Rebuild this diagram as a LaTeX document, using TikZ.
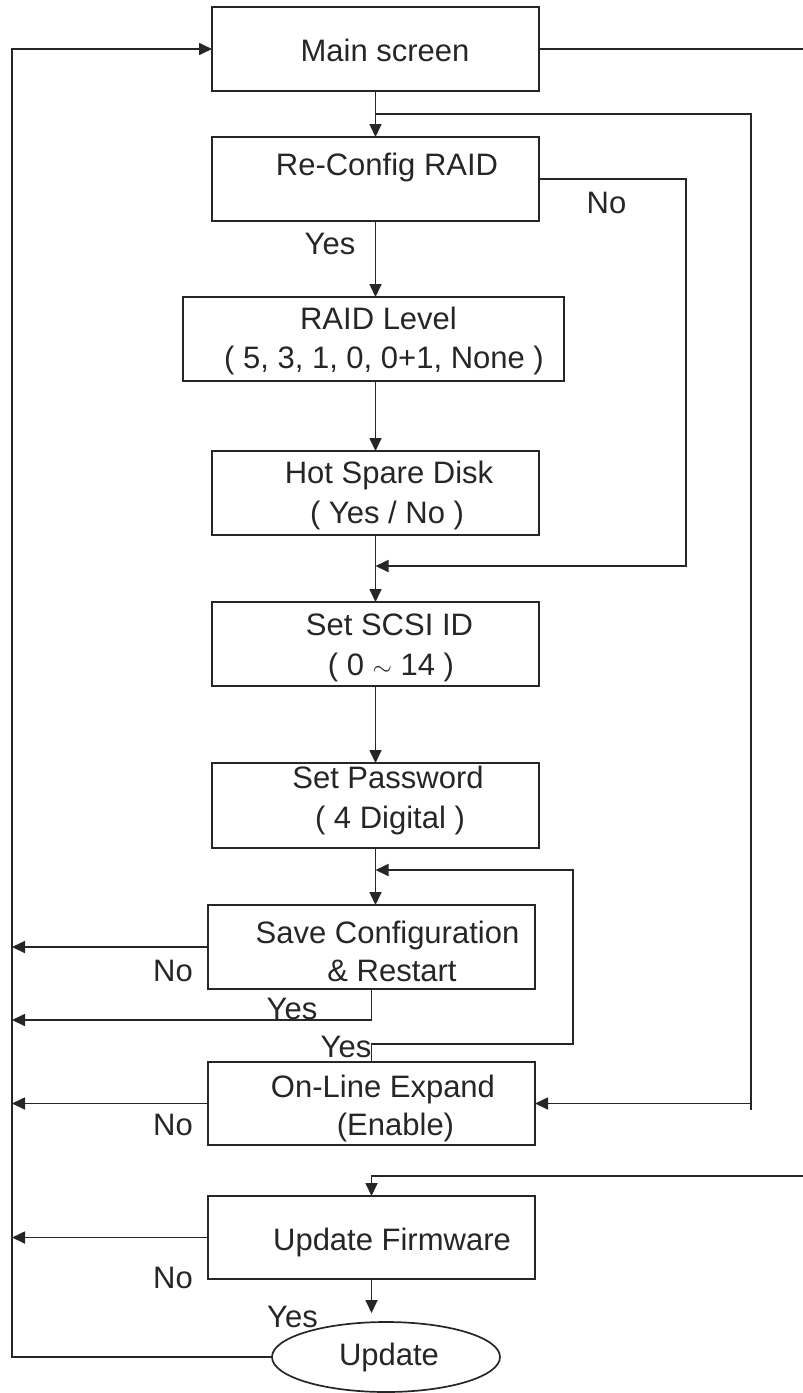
\documentclass[tikz,border=0pt]{standalone}
\usepackage{fontspec}
\setmainfont{Liberation Sans}
\usetikzlibrary{arrows.meta,shapes.geometric}

\begin{document}
\begin{tikzpicture}[x=1pt,y=-1pt,line width=1.7pt,color=black!85,>={Triangle[length=13pt,width=12pt]},
	box/.style={draw,inner sep=0pt,outer sep=0pt,minimum width=327pt,minimum height=84pt},
	lbl/.style={anchor=base,inner sep=0pt,font=\fontsize{31}{37}\selectfont}]
	%\draw[step=50,gray!20,line width=0.4pt] (0,0) grid (803,1393); %raster
	\useasboundingbox (0,0) rectangle (803,1393);
	\coordinate (lft) at (12,0); \coordinate (rgt) at (803,0);
	
	\node[box] (main) at (375.5,49) {}; \node[box] (reconf) at (375.5,179) {};
	\node[box,minimum width=381pt] (level) at (373.5,339) {}; \node[box] (spare) at (375.5,493) {};
	\node[box] (scsi) at (375.5,644) {}; \node[box,minimum height=85pt] (pass) at (375.5,805.5) {};
	\node[box] (save) at (371.5,947) {}; \node[box,minimum height=83pt] (expand) at (371.5,1103.5) {};
	\node[box,minimum height=83pt] (firm) at (371.5,1237.5) {};
	\node[draw,ellipse,inner sep=0pt,outer sep=0pt,minimum width=228pt,minimum height=70pt] (upd) at (386,1357) {};
	
	\node[lbl] (tmain) at (385,61) {Main screen}; \node[lbl] (treconf) at (387,175) {Re-Config RAID};
	\node[lbl] (tlevel) at (378.5,329) {RAID Level}; \node[lbl] (tlevel2) at (384,368) {( 5, 3, 1, 0, 0+1, None )};
	\node[lbl] (tspare) at (389,483) {Hot Spare Disk}; \node[lbl] (tspare2) at (387,523) {( Yes / No )};
	\node[lbl] (tscsi) at (389.5,635) {Set SCSI ID}; \node[lbl] (tscsi2) at (391,675) {( 0 $\sim$ 14 )};
	\node[lbl] (tpass) at (388,788) {Set Password}; \node[lbl] (tpass2) at (390,828) {( 4 Digital )};
	\node[lbl] (tsave) at (387.5,943) {Save Configuration}; \node[lbl] (tsave2) at (392,981) {\& Restart};
	\node[lbl] (texpand) at (383,1097) {On-Line Expand}; \node[lbl] (texpand2) at (395.5,1135) {(Enable)};
	\node[lbl] (tfirm) at (392,1250) {Update Firmware}; \node[lbl] (tupd) at (389,1365) {Update};
	
	\node[lbl] (no1) at (606.5,213) {No}; \node[lbl] (yes1) at (330,254) {Yes};
	\node[lbl] (no2) at (173,981) {No}; \node[lbl] (yes2) at (292,1019) {Yes}; \node[lbl] (yes3) at (346,1057) {Yes};
	\node[lbl] (no3) at (173,1135) {No}; \node[lbl] (no4) at (173,1288) {No}; \node[lbl] (yes4) at (292.5,1327) {Yes};
	
	\coordinate (b1) at (751,114); \coordinate (b1end) at (751,1110); \coordinate (b2) at (686,566);
	\coordinate (b3) at (573,1044); \coordinate (b4) at (573,870); \coordinate (b5) at (12,1020); \coordinate (b6) at (803,1176);
	
	\draw[->] (upd.west) -- (upd.west -| lft) -- (lft |- main.west) -- (main.west);
	\draw (main.east) -- (main.east -| rgt);
	\draw[->] (main.south) -- (reconf.north);
	\draw (main.south |- b1) -- (b1) -- (b1end); \draw[->] (b1 |- expand.east) -- (expand.east);
	\draw[->] (reconf.south) -- (reconf.south |- level.north); \draw[->] (reconf.east) -| (b2) -- (spare.south |- b2);
	\draw[->] (reconf.south |- level.south) -- (spare.north); \draw[->] (spare.south) -- (scsi.north);
	\draw[->] (scsi.south) -- (pass.north); \draw[->] (pass.south) -- (pass.south |- save.north);
	\draw[->] (expand.north) |- (b3) |- (pass.south |- b4);
	\draw[->] (save.west) -- (save.west -| lft); \draw[->] (save.south) |- (b5);
	\draw[->] (expand.west) -- (expand.west -| lft);
	\draw[->] (b6) -| (firm.north); \draw[->] (firm.west) -- (firm.west -| lft);
	\draw[->,shorten >=9pt] (firm.south) -- (upd.north -| firm.south);
\end{tikzpicture}
\end{document}
